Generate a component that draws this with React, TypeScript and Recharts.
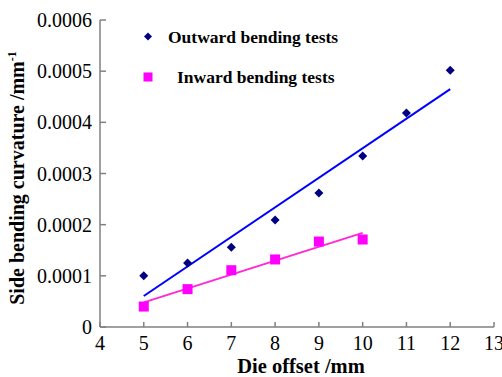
import React from "react";
import { ComposedChart, Scatter, XAxis, YAxis } from "recharts";

const dieOffset = [5, 6, 7, 8, 9, 10, 11, 12];
const outwardValues = [0.0001, 0.000125, 0.000156, 0.000209, 0.000262, 0.000334, 0.000418, 0.000502];
const inwardOffset = [5, 6, 7, 8, 9, 10];
const inwardValues = [0.00004, 0.000074, 0.000111, 0.000132, 0.000167, 0.000171];
const outwardTrendX = [5, 12];
const outwardTrendY = [0.0000605, 0.000465];
const inwardTrendX = [5, 10];
const inwardTrendY = [0.0000482, 0.000184];
const xTicks = [4, 5, 6, 7, 8, 9, 10, 11, 12, 13];
const yTicks = [0, 0.0001, 0.0002, 0.0003, 0.0004, 0.0005, 0.0006];

const outwardData = dieOffset.map((x, i) => ({ x, y: outwardValues[i] }));
const inwardData = inwardOffset.map((x, i) => ({ x, y: inwardValues[i] }));
const outwardTrend = outwardTrendX.map((x, i) => ({ x, y: outwardTrendY[i] }));
const inwardTrend = inwardTrendX.map((x, i) => ({ x, y: inwardTrendY[i] }));

const FONT = "'Liberation Serif', 'Times New Roman', serif";
const AXIS = "#808080";

const Diamond = (props: any) => {
  const { cx, cy } = props;
  const r = 4.5;
  return <polygon points={`${cx},${cy - r} ${cx + r},${cy} ${cx},${cy + r} ${cx - r},${cy}`} fill="#000080" />;
};
const Square = (props: any) => {
  const { cx, cy } = props;
  const r = 5;
  return <rect x={cx - r} y={cy - r} width={2 * r} height={2 * r} fill="#FF00FF" />;
};
const NoShape = () => null;

const fmtY = (v: number) => (v === 0 ? "0" : v.toFixed(4));

const YTick = (props: any) => {
  const { x, y, payload } = props;
  return (
    <g>
      <line x1={x + 8} x2={x + 14} y1={y} y2={y} stroke={AXIS} strokeWidth={1.5} />
      <text x={x} y={y} dy="0.355em" textAnchor="end" fontSize={20} fontFamily={FONT} fill="#000">
        {fmtY(payload.value)}
      </text>
    </g>
  );
};
const XTick = (props: any) => {
  const { x, y, payload } = props;
  return (
    <g>
      <line x1={x} x2={x} y1={y - 9} y2={y - 14} stroke={AXIS} strokeWidth={1.5} />
      <text x={x} y={y} dy="0.71em" textAnchor="middle" fontSize={20} fontFamily={FONT} fill="#000">
        {payload.value}
      </text>
    </g>
  );
};

const LegendBox = () => (
  <svg width={230} height={75} style={{ display: "block", position: "absolute", left: 138, top: 22 }}>
    <polygon points="10,10.5 14,14.5 10,18.5 6,14.5" fill="#000080" />
    <text x={30} y={21} fontSize={17.5} fontWeight="bold" fontFamily={FONT} fill="#000">
      Outward bending tests
    </text>
    <rect x={5.5} y={50.5} width={9} height={9} fill="#FF00FF" />
    <text x={39} y={61} fontSize={17.5} fontWeight="bold" fontFamily={FONT} fill="#000">
      Inward bending tests
    </text>
  </svg>
);

export default function App() {
  return (
    <div style={{ position: "absolute", left: 0, top: 0, width: 502, height: 377, background: "#fff" }}>
      <ComposedChart width={502} height={377} margin={{ top: 20, right: 8, bottom: 0, left: 0 }}>
        <XAxis
          type="number"
          dataKey="x"
          domain={[4, 13]}
          ticks={xTicks}
          interval={0}
          height={50}
          tickSize={0}
          tickMargin={9}
          tick={<XTick />}
          axisLine={{ stroke: AXIS, strokeWidth: 1.5 }}
          label={{
            content: () => (
              <text x={301} y={373} textAnchor="middle" fontSize={20.5} fontWeight="bold" fontFamily={FONT} fill="#000">
                Die offset /mm
              </text>
            ),
          }}
        />
        <YAxis
          type="number"
          dataKey="y"
          domain={[0, 0.0006]}
          ticks={yTicks}
          interval={0}
          width={100}
          tickSize={0}
          tickMargin={8}
          tick={<YTick />}
          axisLine={{ stroke: AXIS, strokeWidth: 1.5 }}
          label={{
            content: () => (
              <text
                transform="translate(24,178) rotate(-90)"
                x={0}
                y={0}
                textAnchor="middle"
                fontSize={20}
                fontWeight="bold"
                fontFamily={FONT}
                fill="#000"
              >
                Side bending curvature /mm
                <tspan fontSize={12} dy={-8}>-1</tspan>
              </text>
            ),
          }}
        />
        <Scatter
          name="outwardFit"
          data={outwardTrend}
          line={{ stroke: "#0000FF", strokeWidth: 2 }}
          shape={<NoShape />}
          legendType="none"
          isAnimationActive={false}
        />
        <Scatter
          name="inwardFit"
          data={inwardTrend}
          line={{ stroke: "#FF29D6", strokeWidth: 2 }}
          shape={<NoShape />}
          legendType="none"
          isAnimationActive={false}
        />
        <Scatter name="Outward bending tests" data={outwardData} shape={<Diamond />} isAnimationActive={false} />
        <Scatter name="Inward bending tests" data={inwardData} shape={<Square />} isAnimationActive={false} />
      </ComposedChart>
      <LegendBox />
    </div>
  );
}
